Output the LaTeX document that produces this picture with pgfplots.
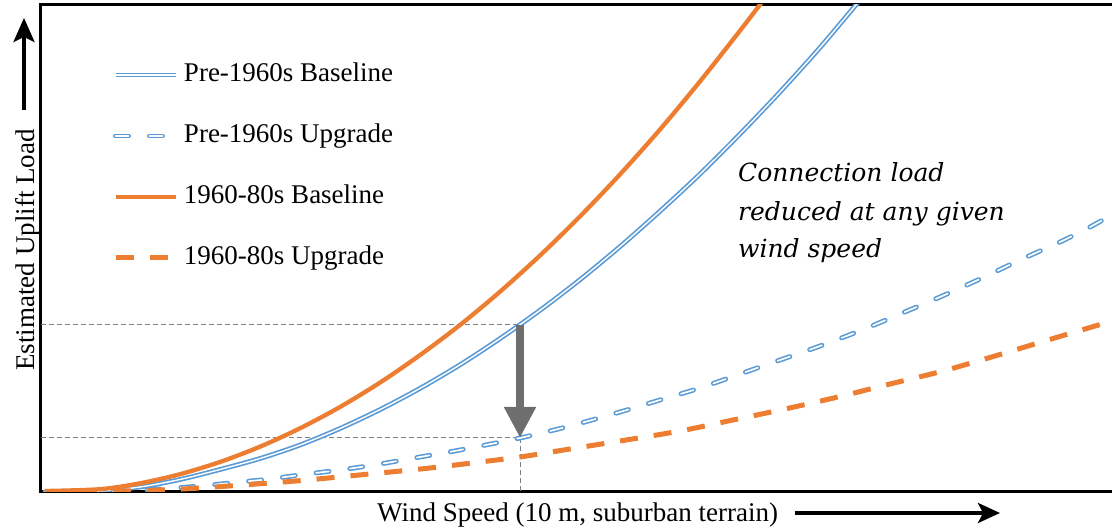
\documentclass[border=0pt]{standalone}
\usepackage{pgfplots}
\pgfplotsset{compat=1.18}
\usetikzlibrary{arrows.meta}
\usepackage{fontspec}
\setmainfont{Liberation Serif}
\newfontfamily\annfont{DejaVu Serif}
\definecolor{cblue}{HTML}{5B9BD5}
\definecolor{corange}{HTML}{ED7D31}
\definecolor{cgray}{HTML}{6E6E6E}
\definecolor{crefl}{HTML}{7F7F7F}
\begin{document}
\begin{tikzpicture}
\begin{axis}[
  x=1pt, y=1pt, xmin=41, xmax=1116, ymin=0, ymax=487,
  axis line style={line width=3pt, black},
  ticks=none,
  clip mode=individual,
  legend image code/.code={\draw[#1] (0pt,0pt) -- (60pt,0pt);},
  legend cell align=left,
  legend style={at={(axis cs:113,430)}, anchor=north west, draw=none, fill=none,
    inner sep=0pt, outer sep=0pt, row sep=35pt, column sep=6pt,
    font=\fontsize{27}{32}\selectfont,
    nodes={inner sep=0pt, text height=20pt, text depth=6pt}},
  refdash/.style={crefl, line width=1pt, dash pattern=on 5pt off 3pt},
  bbase/.style={cblue, line width=1.7pt, double=white, double distance=1.4pt},
  bup/.style={cblue, line width=1.6pt, double=white, double distance=1.7pt, line cap=round, dash pattern=on 13pt off 21pt},
  obase/.style={corange, line width=4.3pt},
  oup/.style={corange, line width=5pt, dash pattern=on 18pt off 16pt},
]
\addplot[forget plot, refdash] coordinates {(41,167) (520,167)};
\addplot[forget plot, refdash] coordinates {(41,54) (520,54)};
\addplot[forget plot, refdash] coordinates {(520,54) (520,0)};

% Pre-1960s Baseline
\addplot[bbase, smooth] coordinates {
(45,0) (100,1) (140,5) (180,12.5) (220,22.5) (260,33.5) (300,47) (340,63.5)
(380,82.4) (420,103.6) (460,127.2) (500,153.4) (540,181.7) (580,212.3)
(620,245.4) (660,280.8) (700,318) (740,358) (780,400) (820,444.4) (860,492)};
\addlegendentry{Pre-1960s Baseline}
% Pre-1960s Upgrade
\addplot[bup, smooth] coordinates {
(45,0) (120,1) (160,3) (200,6) (240,10) (270,13) (307,18) (340,22) (380,28)
(420,35) (460,42) (520,54) (570,66) (620,80) (660,92) (700,104) (740,118)
(780,132) (820,146) (862,162) (900,178) (940,195) (980,213) (1020,232)
(1060,250) (1090,265) (1110,276)};
\addlegendentry{Pre-1960s Upgrade}
% 1960-80s Baseline
\addplot[obase, smooth] coordinates {
(45,1) (100,2.8) (140,8.7) (180,17.8) (220,30) (260,45.3) (300,63.7)
(340,85) (380,109.4) (420,136.9) (460,167) (500,200.3) (540,236.5)
(580,275.6) (620,317.6) (660,362.5) (700,410.6) (740,461.3) (762,490)};
\addlegendentry{1960-80s Baseline}
% 1960-80s Upgrade
\addplot[oup, smooth] coordinates {
(45,0) (120,1) (160,2) (200,4) (270,9) (307,12) (380,19) (430,24) (480,30)
(520,35) (570,43) (620,51) (680,61) (733,72) (785,83) (838,95) (890,108)
(943,121) (995,136) (1048,152) (1112,171)};
\addlegendentry{1960-80s Upgrade}

% reduction arrow
\draw[cgray, line width=8pt, -{Triangle[length=31pt,width=30pt]}] (axis cs:520,167) -- (axis cs:520,54);

% annotation
\node[anchor=base west, font=\annfont\itshape\fontsize{25}{30}\selectfont, inner sep=0pt] at (axis cs:738,310) {Connection load};
\node[anchor=base west, font=\annfont\itshape\fontsize{25}{30}\selectfont, inner sep=0pt] at (axis cs:738,271) {reduced at any given};
\node[anchor=base west, font=\annfont\itshape\fontsize{25}{30}\selectfont, inner sep=0pt] at (axis cs:738,234) {wind speed};

% axis labels with arrows
\node[anchor=base west, font=\fontsize{27}{32}\selectfont, inner sep=0pt] at (axis cs:377,-30) {Wind Speed (10 m, suburban terrain)};
\draw[black, line width=3.5pt, -{Stealth[length=22pt,width=20pt,inset=5pt]}] (axis cs:795,-21) -- (axis cs:1000,-21);
\node[anchor=base, rotate=90, font=\fontsize{27}{32}\selectfont, inner sep=0pt] at (axis cs:35,242) {Estimated Uplift Load};
\draw[black, line width=3.5pt, -{Stealth[length=24pt,width=21pt,inset=5pt]}] (axis cs:24,382) -- (axis cs:24,474);

\coordinate (bbll) at (axis cs:0,-37);
\coordinate (bbur) at (axis cs:1112,492);
\end{axis}
\pgfresetboundingbox
\path[use as bounding box] (bbll) rectangle (bbur);
\end{tikzpicture}
\end{document}
